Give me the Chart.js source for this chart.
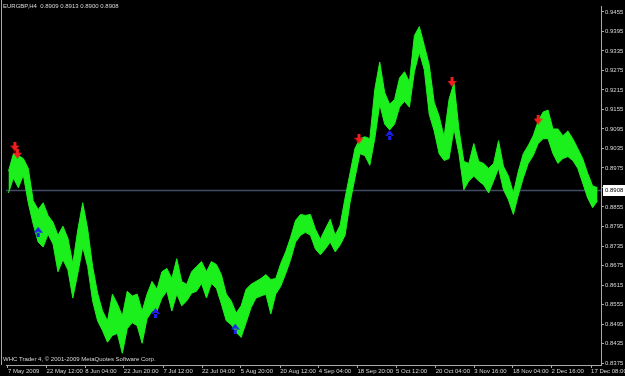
<!DOCTYPE html>
<html>
<head>
<meta charset="utf-8">
<script src="https://cdn.jsdelivr.net/npm/chart.js@4.4.0/dist/chart.umd.min.js"></script>
<style>
html, body { margin: 0; padding: 0; background: #000; }
#wrap { width: 625px; height: 376px; }
</style>
</head>
<body>
<div id="wrap"><canvas id="chartEurGbp" width="625" height="376"></canvas></div>
<script>
var symbolName = 'EURGBP,H4';
var lastBar = [0.8909, 0.8913, 0.8900, 0.8908];
var bidPrice = 0.8908;
var copyright = 'WHC Trader 4, \u00a9 2001-2009 MetaQuotes Software Corp.';

// high / low of the price band, one entry per slot along the time axis
var highs = [0.8965, 0.9019, 0.9013, 0.9004, 0.8974, 0.8874, 0.8847, 0.8868, 0.8829, 0.8808,
    0.8768, 0.8796, 0.8759, 0.8681, 0.8784, 0.8868, 0.8787, 0.8672, 0.8590, 0.8535,
    0.8505, 0.8587, 0.8557, 0.8520, 0.8596, 0.8581, 0.8587, 0.8535, 0.8587, 0.8626,
    0.8602, 0.8656, 0.8666, 0.8635, 0.8696, 0.8626, 0.8617, 0.8656, 0.8672, 0.8687,
    0.8656, 0.8687, 0.8678, 0.8647, 0.8587, 0.8566, 0.8529, 0.8551, 0.8602, 0.8617,
    0.8626, 0.8635, 0.8647, 0.8632, 0.8635, 0.8681, 0.8717, 0.8762, 0.8814, 0.8832,
    0.8829, 0.8832, 0.8787, 0.8756, 0.8787, 0.8817, 0.8768, 0.8799, 0.8883, 0.8959,
    0.9035, 0.9065, 0.9071, 0.9065, 0.9216, 0.9301, 0.9207, 0.9171, 0.9186, 0.9252,
    0.9271, 0.9240, 0.9382, 0.9410, 0.9352, 0.9292, 0.9177, 0.9134, 0.9071, 0.9186,
    0.9237, 0.9095, 0.8995, 0.8989, 0.9050, 0.8995, 0.8989, 0.8974, 0.8989, 0.9059,
    0.8980, 0.8950, 0.8898, 0.8965, 0.9019, 0.9044, 0.9074, 0.9119, 0.9147, 0.9153,
    0.9095, 0.9095, 0.9074, 0.9089, 0.9065, 0.9035, 0.9004, 0.8959, 0.8920, 0.8914];
var lows = [0.8898, 0.8944, 0.8914, 0.8953, 0.8868, 0.8802, 0.8747, 0.8732, 0.8771, 0.8741,
    0.8656, 0.8693, 0.8662, 0.8575, 0.8650, 0.8732, 0.8672, 0.8566, 0.8505, 0.8475,
    0.8439, 0.8460, 0.8466, 0.8405, 0.8481, 0.8499, 0.8490, 0.8436, 0.8511, 0.8535,
    0.8535, 0.8575, 0.8596, 0.8535, 0.8587, 0.8551, 0.8566, 0.8590, 0.8596, 0.8620,
    0.8575, 0.8620, 0.8605, 0.8557, 0.8505, 0.8493, 0.8469, 0.8454, 0.8499, 0.8545,
    0.8575, 0.8581, 0.8587, 0.8526, 0.8587, 0.8611, 0.8650, 0.8693, 0.8747, 0.8768,
    0.8777, 0.8768, 0.8726, 0.8708, 0.8726, 0.8747, 0.8717, 0.8738, 0.8768, 0.8868,
    0.8944, 0.9019, 0.9013, 0.8983, 0.9065, 0.9171, 0.9110, 0.9092, 0.9110, 0.9162,
    0.9180, 0.9162, 0.9271, 0.9331, 0.9277, 0.9140, 0.9089, 0.9019, 0.8998, 0.9004,
    0.9095, 0.9019, 0.8908, 0.8935, 0.8950, 0.8935, 0.8923, 0.8898, 0.8935, 0.8974,
    0.8908, 0.8877, 0.8832, 0.8892, 0.8944, 0.8989, 0.9013, 0.9050, 0.9065, 0.9065,
    0.9019, 0.8989, 0.9004, 0.9010, 0.8998, 0.8974, 0.8929, 0.8883, 0.8853, 0.8874];

// fractal arrows: [slot, price]
var sellArrows = [[1.8, 0.9041], [2.3, 0.9019], [71.3, 0.9065], [90.1, 0.9240], [107.5, 0.9124]];
var buyArrows = [[6.5, 0.8779], [30.2, 0.8529], [46.3, 0.8481], [77.5, 0.9077]];

var priceTicks = [0.8375, 0.8435, 0.8495, 0.8555, 0.8615, 0.8675, 0.8735, 0.8795, 0.8855,
    0.8915, 0.8975, 0.9035, 0.9095, 0.9155, 0.9215, 0.9275, 0.9335, 0.9395, 0.9455];
var timeLabels = ['7 May 2009', '22 May 12:00', '8 Jun 04:00', '22 Jun 20:00', '7 Jul 12:00',
    '22 Jul 04:00', '5 Aug 20:00', '20 Aug 12:00', '4 Sep 04:00', '18 Sep 20:00', '5 Oct 12:00',
    '20 Oct 04:00', '3 Nov 16:00', '18 Nov 04:00', '2 Dec 16:00', '17 Dec 08:00'];
var timeSlots = [0.4, 8.2, 16, 23.8, 31.8, 39.6, 47.4, 55.4, 63.2, 71, 78.8, 86.8, 94.6, 102.4, 110.2, 118.2];

var TXT = '#d8d8d8';
var FRAME = '#a8a8a8';
var GREEN = '#1cf01c';
var FONT = { family: 'Liberation Sans', size: 6 };

function makeArrow(color, down) {
    var c = document.createElement('canvas');
    c.width = 9; c.height = 10;
    var g = c.getContext('2d');
    g.fillStyle = color;
    g.beginPath();
    if (down) {
        g.rect(3, 0, 3, 5);
        g.moveTo(0, 4); g.lineTo(9, 4); g.lineTo(4.5, 10);
    } else {
        g.rect(3, 5, 3, 5);
        g.moveTo(0, 6); g.lineTo(9, 6); g.lineTo(4.5, 0);
    }
    g.fill();
    return c;
}

function toPoints(arr) {
    return arr.map(function (v, i) { return { x: i + 0.5, y: v }; });
}
function toArrowPoints(arr) {
    return arr.map(function (a) { return { x: a[0], y: a[1] }; });
}

var terminalLook = {
    id: 'terminalLook',
    beforeDraw: function (chart) {
        var c = chart.ctx;
        c.save();
        c.fillStyle = '#000';
        c.fillRect(0, 0, chart.width, chart.height);
        c.restore();
    },
    beforeDatasetsDraw: function (chart) {
        var c = chart.ctx, a = chart.chartArea;
        var py = Math.round(chart.scales.y.getPixelForValue(bidPrice));
        c.save();
        c.strokeStyle = '#414b66';
        c.lineWidth = 1.5;
        c.beginPath();
        c.moveTo(a.left, py + 0.5);
        c.lineTo(a.right, py + 0.5);
        c.stroke();
        c.restore();
    },
    afterDraw: function (chart) {
        var c = chart.ctx, a = chart.chartArea;
        var py = Math.round(chart.scales.y.getPixelForValue(bidPrice));
        c.save();
        // left frame
        c.strokeStyle = FRAME;
        c.lineWidth = 1;
        c.beginPath();
        c.moveTo(1.5, 0);
        c.lineTo(1.5, a.bottom);
        c.stroke();
        // bid label
        c.fillStyle = '#ffffff';
        c.fillRect(a.right + 2, py - 5, chart.width - a.right - 2, 11);
        c.fillStyle = '#000000';
        c.font = '6px "Liberation Sans"';
        c.textBaseline = 'middle';
        c.textAlign = 'left';
        c.fillText(bidPrice.toFixed(4), a.right + 4, py + 0.5);
        // texts
        c.fillStyle = TXT;
        c.fillText(symbolName + '  ' + lastBar.map(function (v) { return v.toFixed(4); }).join(' '), 3, 6);
        c.fillText(copyright, 3, 359);
        c.restore();
    }
};

var ctx = document.getElementById('chartEurGbp').getContext('2d');

var chart = new Chart(ctx, {
    type: 'line',
    data: {
        datasets: [{
            label: 'High',
            data: toPoints(highs),
            borderColor: GREEN,
            borderWidth: 1,
            pointRadius: 0,
            fill: false,
            order: 2
        }, {
            label: 'Low',
            data: toPoints(lows),
            borderColor: GREEN,
            backgroundColor: GREEN,
            borderWidth: 1,
            pointRadius: 0,
            fill: '-1',
            order: 2
        }, {
            label: 'Sell',
            data: toArrowPoints(sellArrows),
            showLine: false,
            pointStyle: makeArrow('#f01e1e', true),
            pointRadius: 5,
            order: 1
        }, {
            label: 'Buy',
            data: toArrowPoints(buyArrows),
            showLine: false,
            pointStyle: makeArrow('#1e1ef0', false),
            pointRadius: 5,
            order: 1
        }]
    },
    options: {
        responsive: false,
        animation: false,
        events: [],
        layout: { padding: 0 },
        plugins: { legend: { display: false }, tooltip: { enabled: false } },
        scales: {
            x: {
                type: 'linear',
                min: 0,
                max: 120.2,
                border: { color: FRAME },
                grid: { drawOnChartArea: false, color: FRAME, tickLength: 3 },
                ticks: {
                    color: TXT,
                    font: FONT,
                    padding: 0,
                    align: 'start',
                    maxRotation: 0,
                    autoSkip: false,
                    callback: function (v, i) { return timeLabels[i]; }
                },
                afterBuildTicks: function (s) {
                    s.ticks = timeSlots.map(function (v) { return { value: v }; });
                },
                afterFit: function (s) {
                    s.height = 11;
                    s.paddingLeft = 0; s.paddingRight = 0; s.paddingTop = 0; s.paddingBottom = 0;
                }
            },
            y: {
                position: 'right',
                min: 0.83690,
                max: 0.94732,
                border: { color: FRAME },
                grid: { drawOnChartArea: false, color: FRAME, tickLength: 3 },
                ticks: {
                    color: TXT,
                    font: FONT,
                    padding: 1,
                    callback: function (v) { return v.toFixed(4); }
                },
                afterBuildTicks: function (s) {
                    s.ticks = priceTicks.map(function (v) { return { value: v }; });
                },
                afterFit: function (s) {
                    s.width = 24;
                    s.paddingLeft = 0; s.paddingRight = 0; s.paddingTop = 0; s.paddingBottom = 0;
                }
            }
        }
    },
    plugins: [terminalLook]
});
</script>
</body>
</html>
